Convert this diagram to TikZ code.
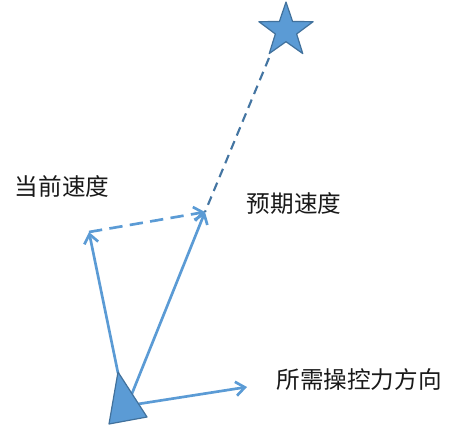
\documentclass[tikz,border=0pt]{standalone}
\usepackage{fontspec}
\newfontfamily\cjk{Noto Sans CJK SC}
\usetikzlibrary{arrows.meta,shapes.geometric}
\definecolor{vblue}{HTML}{5B9BD5}
\definecolor{vdark}{HTML}{41719C}
\tikzset{
  vec/.style={draw=vblue, line width=2pt, -{Straight Barb[length=6.75pt,width=10.5pt,line width=2pt]}},
  dvec/.style={vec, dash pattern=on 10pt off 5.5pt},
  guide/.style={draw=vdark!90!vblue, line width=1.6pt, dash pattern=on 6.75pt off 4.5pt},
  lbl/.style={font=\cjk\fontsize{17.7pt}{20pt}\selectfont, text=black!90, inner sep=0pt},
  shapefill/.style={fill=vblue, draw=vdark, line width=0.9pt, line join=round}
}
\begin{document}
\begin{tikzpicture}[x=0.75pt,y=-0.75pt]
\useasboundingbox (0,0) rectangle (472,430);
% anchor points
\coordinate (oc) at (118,373);
\coordinate (od) at (131,396);
\coordinate (of) at (138,404);
\coordinate (vc) at (89,232);
\coordinate (vd) at (205,212);
\coordinate (ft) at (247,387);
\coordinate (sb) at (269,58);
% connectors
\draw[vec] (oc) -- (vc);
\draw[vec] (od) -- (vd);
\draw[vec] (of) -- (ft);
\draw[dvec] (vc) -- (vd);
\draw[guide] (sb) -- (vd);
% ship triangle
\path[shapefill] (118,372) -- (147,417) -- (109,424) -- cycle;
% target star
\node[star, star points=5, star point ratio=2.55, minimum size=42.75pt, inner sep=0pt, shapefill] (target) at (286,30.5) {};
% labels
\node[lbl] (lcur) at (62,186) {当前速度};
\node[lbl] (ldes) at (294,204) {预期速度};
\node[lbl] (lfor) at (359,380) {所需操控力方向};
\end{tikzpicture}
\end{document}
